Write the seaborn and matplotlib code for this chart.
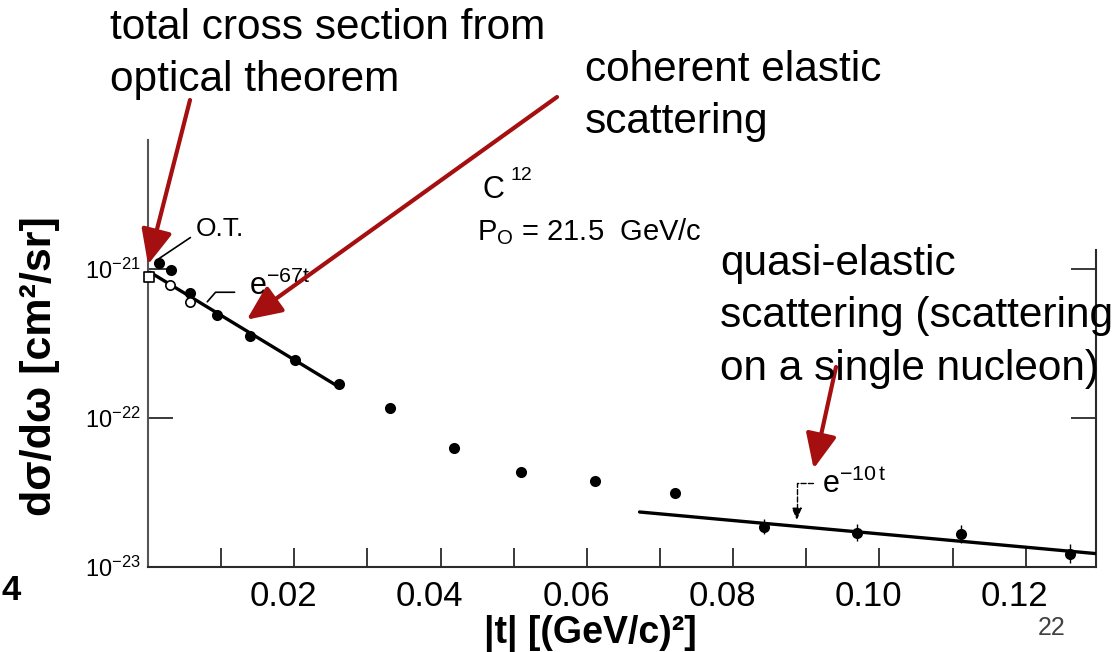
import numpy as np
import pandas as pd
import matplotlib
matplotlib.use("Agg")
import matplotlib.pyplot as plt
import seaborn as sns
from matplotlib.transforms import ScaledTranslation
from matplotlib.ticker import FixedLocator, NullLocator

# ---------------- data ----------------
# filled points: |t| [(GeV/c)^2], dsigma/domega [cm^2/sr]
t_filled = [0.0015, 0.0031, 0.0057, 0.0094, 0.0139, 0.0201, 0.0261, 0.0331,
            0.0418, 0.0510, 0.0611, 0.0720, 0.0842, 0.0969, 0.1111, 0.1260]
y_filled = [1.10e-21, 9.8e-22, 6.9e-22, 4.9e-22, 3.55e-22, 2.45e-22, 1.70e-22, 1.17e-22,
            6.3e-23, 4.35e-23, 3.8e-23, 3.15e-23, 1.86e-23, 1.70e-23, 1.66e-23, 1.23e-23]
# open circles
t_open = [0.0030, 0.0057]
y_open = [7.8e-22, 6.0e-22]
# open square (optical theorem)
t_ot = [0.0002]
y_ot = [8.9e-22]
# error bars (in decades) for the large-|t| points
t_err = [0.0842, 0.0969, 0.1111, 0.1260]
y_err = [1.86e-23, 1.70e-23, 1.66e-23, 1.23e-23]
err_dex = [0.05, 0.055, 0.06, 0.065]
# fitted straight lines (endpoints)
t_coh = [0.0003, 0.0258]
y_coh = [9.5e-22, 1.65e-22]
t_qe = [0.0672, 0.1296]
y_qe = [2.34e-23, 1.23e-23]

x_major = [0.02, 0.04, 0.06, 0.08, 0.10, 0.12]
x_major_labels = ["0.02", "0.04", "0.06", "0.08", "0.10", "0.12"]
x_minor = [0.01, 0.03, 0.05, 0.07, 0.09, 0.11]
y_ticks = [1e-23, 1e-22, 1e-21]
y_tick_labels = ["$10^{-23}$", "$10^{-22}$", "$10^{-21}$"]

# ---------------- style ----------------
sns.set_theme(style="white")
plt.rcParams["font.family"] = ["Liberation Sans", "DejaVu Sans"]
plt.rcParams["mathtext.fontset"] = "custom"
plt.rcParams["mathtext.rm"] = "Liberation Sans"
plt.rcParams["mathtext.it"] = "Liberation Sans:italic"
plt.rcParams["mathtext.bf"] = "Liberation Sans:bold"
plt.rcParams["mathtext.default"] = "regular"
plt.rcParams["text.color"] = "black"
plt.rcParams["axes.labelcolor"] = "black"

RED = "#a50f0f"
W, H = 1113, 652
fig = plt.figure(figsize=(W / 100, H / 100), dpi=100)
ax = fig.add_axes([148 / W, 85 / H, 948 / W, 427 / H])
ax.set_yscale("log")

df_f = pd.DataFrame({"t": t_filled, "y": y_filled})
df_o = pd.DataFrame({"t": t_open, "y": y_open})
df_s = pd.DataFrame({"t": t_ot, "y": y_ot})
df_c = pd.DataFrame({"t": t_coh, "y": y_coh})
df_q = pd.DataFrame({"t": t_qe, "y": y_qe})

sns.lineplot(data=df_c, x="t", y="y", ax=ax, color="black", lw=2.4, zorder=3)
sns.lineplot(data=df_q, x="t", y="y", ax=ax, color="black", lw=2.4, zorder=3)

lo = [y - y * 10 ** (-e) for y, e in zip(y_err, err_dex)]
hi = [y * 10 ** e - y for y, e in zip(y_err, err_dex)]
ax.errorbar(t_err, y_err, yerr=[lo, hi], fmt="none", ecolor="black", elinewidth=1.0, capsize=0, zorder=3)

sns.scatterplot(data=df_f, x="t", y="y", ax=ax, color="black", s=64, linewidth=0, zorder=4)
sns.scatterplot(data=df_o, x="t", y="y", ax=ax, color="white", edgecolor="black",
                s=45, linewidth=1.2, zorder=5)
sns.scatterplot(data=df_s, x="t", y="y", ax=ax, marker="s", color="white", edgecolor="black",
                s=45, linewidth=1.2, zorder=5, clip_on=False)

ax.set_xlim(0, 0.1296)
ax.set_ylim(1e-23, 10 ** -20.134)

# spines
ax.spines["top"].set_visible(False)
for s in ["left", "bottom", "right"]:
    ax.spines[s].set_linewidth(1.5)
    ax.spines[s].set_color("#2a2a2a")
ax.spines["left"].set_color("#555555")
ax.spines["right"].set_bounds(1e-23, 10 ** -20.87)

# ticks
ax.xaxis.set_major_locator(FixedLocator(x_major))
ax.xaxis.set_minor_locator(FixedLocator(x_minor))
ax.set_xticklabels(x_major_labels)
ax.tick_params(axis="x", which="both", bottom=True, direction="in", length=14, width=1.3,
               color="#2a2a2a", labelsize=25, pad=9, labelcolor="black")
ax.set_yticks(y_ticks)
ax.set_yticklabels(y_tick_labels)
ax.yaxis.set_minor_locator(NullLocator())
ax.tick_params(axis="y", which="major", left=True, right=True, direction="in", length=18,
               width=1.3, color="#2a2a2a", labelsize=17, pad=5, labelcolor="black")
shift = ScaledTranslation(-11 / 100, 0, fig.dpi_scale_trans)
for lab in ax.get_xticklabels():
    lab.set_transform(lab.get_transform() + shift)

ax.set_xlabel("|t| [(GeV/c)²]", fontsize=27, fontweight="bold")
ax.xaxis.set_label_coords((590 - 148) / 948, (567 - 615) / 427)
ax.set_ylabel("dσ/dω [cm²/sr]", fontsize=31, fontweight="bold")
ax.yaxis.set_label_coords((60 - 148) / 948, (567 - 366) / 427)


def fp(x, y):
    return (x, H - y)


# scanned-figure annotations
ax.annotate("O.T.", xy=(0.0015, 10 ** -20.93), xytext=fp(196, 229), textcoords="figure pixels",
            fontsize=19, ha="left", va="center",
            arrowprops=dict(arrowstyle="-", lw=1.2, color="black", shrinkA=2, shrinkB=0,
                            relpos=(0, 0.3)), annotation_clip=False)
ax.annotate("$e^{-67t}$", xy=(0.0081, 10 ** -21.22), xytext=fp(249, 286), textcoords="figure pixels",
            fontsize=22, ha="left", va="center",
            arrowprops=dict(arrowstyle="-", lw=1.2, color="black", shrinkA=8, shrinkB=0,
                            relpos=(0, 0.3), connectionstyle="angle,angleA=0,angleB=49,rad=0"),
            annotation_clip=False)
ax.text(*fp(822, 484), "$e^{-10\\,t}$", transform=None, fontsize=22, ha="left", va="center")
ax.annotate("", xy=(0.0887, 10 ** -22.685), xytext=fp(813, 483), textcoords="figure pixels",
            arrowprops=dict(arrowstyle="-|>,head_length=0.6,head_width=0.25", lw=1.0, ls="--",
                            color="black", mutation_scale=12, shrinkA=0, shrinkB=0,
                            connectionstyle="angle,angleA=180,angleB=90,rad=0"))
fig.text(482 / W, 1 - 190 / H, "C", fontsize=22, ha="left", va="center")
fig.text(510 / W, 1 - 175 / H, "12", fontsize=14, ha="left", va="center")
fig.text(477 / W, 1 - 232 / H, "P$_{O}$ = 21.5  GeV/c", fontsize=21, ha="left", va="center")

# slide annotations
fig.text(110 / W, 1 - 8 / H, "total cross section from\noptical theorem", fontsize=30.5,
         ha="left", va="top", linespacing=1.4)
fig.text(585 / W, 1 - 50 / H, "coherent elastic\nscattering", fontsize=30.5,
         ha="left", va="top", linespacing=1.4)
fig.text(720 / W, 1 - 244 / H, "quasi-elastic\nscattering (scattering\non a single nucleon)",
         fontsize=30.5, ha="left", va="top", linespacing=1.4)

arrow_kw = dict(arrowstyle="-|>,head_length=0.85,head_width=0.38", color=RED, lw=3,
                mutation_scale=25, shrinkA=0, shrinkB=0)
ax.annotate("", xy=(0.0, 10 ** -20.97), xytext=fp(190, 100), textcoords="figure pixels",
            arrowprops=arrow_kw, annotation_clip=False)
ax.annotate("", xy=(0.0135, 10 ** -21.34), xytext=fp(557, 97), textcoords="figure pixels",
            arrowprops=arrow_kw, annotation_clip=False)
ax.annotate("", xy=(0.091, 10 ** -22.34), xytext=fp(836, 367), textcoords="figure pixels",
            arrowprops=arrow_kw, annotation_clip=False)

fig.text(2 / W, 1 - 591 / H, "4", fontsize=25, fontweight="bold", ha="left", va="center")
fig.text(1052 / W, 1 - 628 / H, "22", fontsize=18, color="#404040", ha="center", va="center")

fig.savefig("out.png", dpi=100)
